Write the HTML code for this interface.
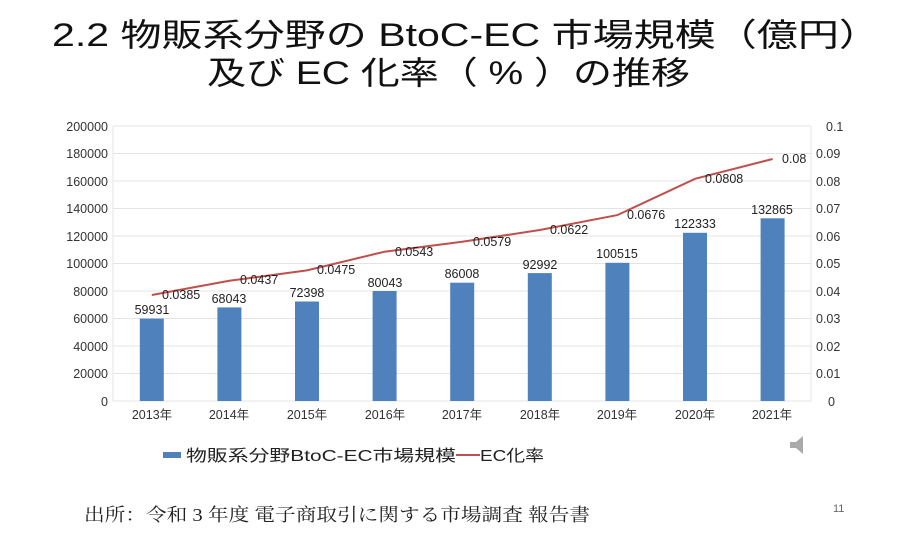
<!DOCTYPE html>
<html><head><meta charset="utf-8"><style>
body{margin:0;width:900px;height:528px;background:#fff;overflow:hidden;font-family:"Liberation Sans","Noto Sans CJK JP",sans-serif;}
</style></head><body>
<svg width="900" height="528" xmlns="http://www.w3.org/2000/svg" font-family="Liberation Sans, Noto Sans CJK JP, sans-serif">
<text x="52" y="46" font-size="32" fill="#111" textLength="828" lengthAdjust="spacingAndGlyphs">2.2  物販系分野の BtoC-EC 市場規模（億円）</text>
<text x="207" y="84" font-size="32" fill="#111" textLength="483" lengthAdjust="spacingAndGlyphs">及び EC 化率（ % ）の推移</text>
<g stroke="#e4e4e4" stroke-width="1">
<line x1="113" y1="126" x2="811" y2="126"/><line x1="113" y1="153.5" x2="811" y2="153.5"/>
<line x1="113" y1="181" x2="811" y2="181"/><line x1="113" y1="208.5" x2="811" y2="208.5"/>
<line x1="113" y1="236" x2="811" y2="236"/><line x1="113" y1="263.5" x2="811" y2="263.5"/>
<line x1="113" y1="291" x2="811" y2="291"/><line x1="113" y1="318.5" x2="811" y2="318.5"/>
<line x1="113" y1="346" x2="811" y2="346"/><line x1="113" y1="373.5" x2="811" y2="373.5"/>
<line x1="113" y1="401" x2="811" y2="401"/>
<line x1="113" y1="126" x2="113" y2="401"/><line x1="811" y1="126" x2="811" y2="401"/>
</g>
<g font-size="12.5" fill="#333" text-anchor="end">
<text x="108" y="131">200000</text><text x="108" y="158">180000</text><text x="108" y="186">160000</text>
<text x="108" y="213">140000</text><text x="108" y="241">120000</text><text x="108" y="268">100000</text>
<text x="108" y="296">80000</text><text x="108" y="323">60000</text><text x="108" y="351">40000</text>
<text x="108" y="378">20000</text><text x="108" y="406">0</text>
</g>
<g font-size="12.5" fill="#333">
<text x="826" y="131">0.1</text><text x="816" y="158">0.09</text><text x="816" y="186">0.08</text>
<text x="816" y="213">0.07</text><text x="816" y="241">0.06</text><text x="816" y="268">0.05</text>
<text x="816" y="296">0.04</text><text x="816" y="323">0.03</text><text x="816" y="351">0.02</text>
<text x="816" y="378">0.01</text><text x="828" y="406">0</text>
</g>
<g fill="#4f81bd">
<rect x="139.8" y="318.6" width="24" height="82.4"/>
<rect x="217.4" y="307.4" width="24" height="93.6"/>
<rect x="295" y="301.5" width="24" height="99.5"/>
<rect x="372.6" y="291" width="24" height="110"/>
<rect x="450.2" y="282.7" width="24" height="118.3"/>
<rect x="527.8" y="273.1" width="24" height="127.9"/>
<rect x="605.4" y="262.8" width="24" height="138.2"/>
<rect x="683" y="232.8" width="24" height="168.2"/>
<rect x="760.6" y="218.3" width="24" height="182.7"/>
</g>
<g font-size="12.5" fill="#222" text-anchor="middle">
<text x="152" y="314">59931</text><text x="229" y="303">68043</text><text x="307" y="297">72398</text>
<text x="385" y="287">80043</text><text x="462" y="278">86008</text><text x="540" y="269">92992</text>
<text x="617" y="258">100515</text><text x="695" y="228">122333</text><text x="772" y="214">132865</text>
</g>
<polyline fill="none" stroke="#c0504d" stroke-width="2" points="151.8,295 229.4,280.8 307,270.4 384.6,251.7 462.2,241.8 539.8,230 617.4,215.1 695,178.8 772.6,159"/>
<g font-size="12.5" fill="#222">
<text x="162" y="299">0.0385</text><text x="240" y="284">0.0437</text><text x="317" y="274">0.0475</text>
<text x="395" y="256">0.0543</text><text x="473" y="246">0.0579</text><text x="550" y="234">0.0622</text>
<text x="627" y="219">0.0676</text><text x="705" y="183">0.0808</text><text x="782" y="163">0.08</text>
</g>
<g font-size="12.5" fill="#333" text-anchor="middle">
<text x="152" y="419">2013年</text><text x="229" y="419">2014年</text><text x="307" y="419">2015年</text>
<text x="385" y="419">2016年</text><text x="462" y="419">2017年</text><text x="540" y="419">2018年</text>
<text x="617" y="419">2019年</text><text x="695" y="419">2020年</text><text x="772" y="419">2021年</text>
</g>
<rect x="163" y="452" width="18" height="6" fill="#4f81bd"/>
<text x="186" y="461" font-size="16" fill="#222" textLength="270" lengthAdjust="spacingAndGlyphs">物販系分野BtoC-EC市場規模</text>
<line x1="456" y1="455" x2="480" y2="455" stroke="#c0504d" stroke-width="2"/>
<text x="480" y="461" font-size="16" fill="#222" textLength="64" lengthAdjust="spacingAndGlyphs">EC化率</text>
<polygon points="790,442 796,442 803,436 803,454 796,448 790,448" fill="#aaa"/>
<text x="84" y="521" font-size="18" fill="#222" font-family="Liberation Serif, Noto Serif CJK SC, serif" textLength="506" lengthAdjust="spacingAndGlyphs">出所：令和 3 年度 電子商取引に関する市場調査 報告書</text>
<text x="833" y="512" font-size="11" fill="#666">11</text>
</svg>
</body></html>
